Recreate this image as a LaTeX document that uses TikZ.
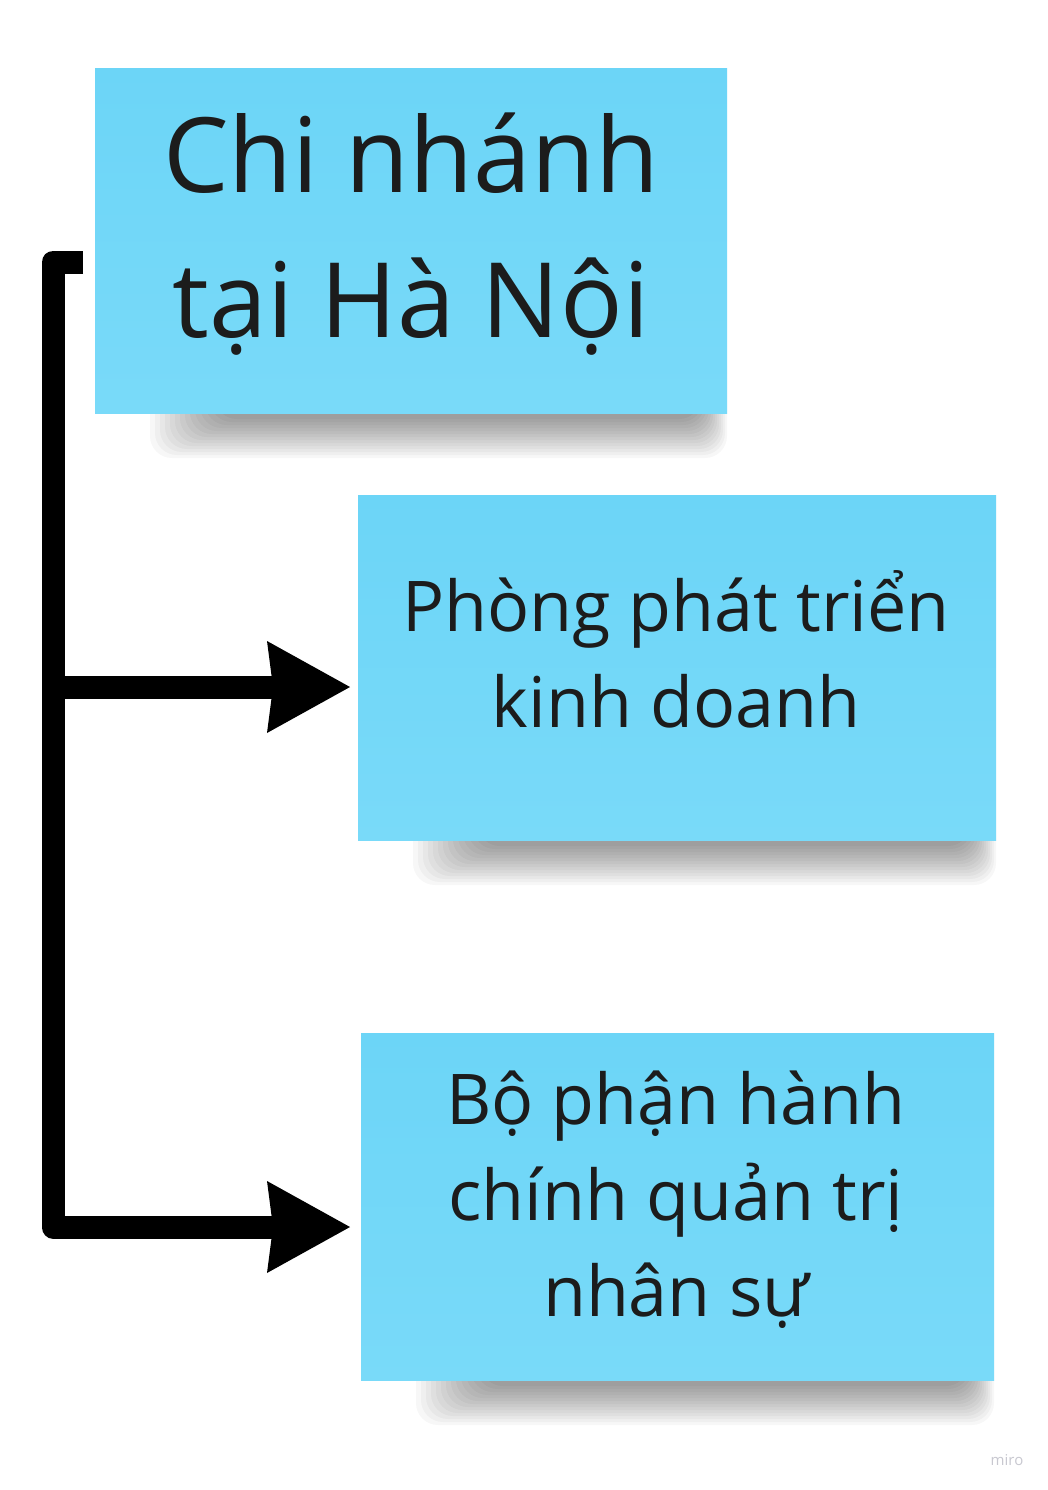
\documentclass[tikz,border=0pt]{standalone}
\usepackage{fontspec}
\setmainfont{Open Sans}
\usetikzlibrary{arrows.meta,calc}
\definecolor{notetop}{RGB}{108,213,247}
\definecolor{notebot}{RGB}{121,218,249}
\definecolor{ink}{RGB}{28,28,28}
\definecolor{wm}{RGB}{200,200,208}
\pgfdeclarelayer{shadowlayer}
\pgfsetlayers{shadowlayer,main}
\tikzset{
  note/.style={draw=none, top color=notetop, bottom color=notebot, inner sep=0pt, outer sep=0pt},
  bigtext/.style={align=center, text=ink, font=\fontsize{104}{145}\selectfont, anchor=base, inner sep=0pt},
  midtext/.style={align=center, text=ink, font=\fontsize{70}{96}\selectfont, anchor=base, inner sep=0pt},
  link/.style={line width=23pt, line join=round, draw=black},
  tipped/.style={-{Stealth[length=83pt,width=92pt,inset=6pt,line width=0pt]}},
  wmark/.style={text=wm, font=\fontsize{15}{18}\selectfont, inner sep=0pt},
}
\newcommand\noteshadow[1]{%
  \foreach \i in {0,...,13}{%
    \fill[black,opacity=0.032,rounded corners=22pt]
      ($(#1.south west)+(120-5*\i,-30-3*\i)$) rectangle ($(#1.south east)+(-26+2*\i,6+3*\i)$);
  }%
}
\begin{document}
\begin{tikzpicture}[x=1pt,y=-1pt]
\useasboundingbox (0,0) rectangle (1048,1490);

% sticky notes
\node[note, minimum width=632pt, minimum height=344pt] (b1) at (411,241) {};
\node[note, minimum width=638pt, minimum height=345pt] (b2) at (677,667.5) {};
\node[note, minimum width=633pt, minimum height=347pt] (b3) at (677.5,1206.5) {};

\begin{pgfonlayer}{shadowlayer}
  \fill[white] (0,0) rectangle (1048,1490);
  \noteshadow{b1}
  \noteshadow{b2}
  \noteshadow{b3}
\end{pgfonlayer}

% texts
\node[bigtext] (t1) at (411,337) {Chi nhánh\\tại Hà Nội};
\node[midtext] (t2) at (676,727) {Phòng phát triển\\kinh doanh};
\node[midtext] (t3) at (676,1316) {Bộ phận hành\\chính quản trị\\nhân sự};

% connectors
\coordinate (s) at (83,262);
\coordinate (top) at (53,262);
\coordinate (a1) at ($(b2.west)+(-8,19.5)$);
\coordinate (a2) at ($(b3.west)+(-11,20.5)$);
\draw[link,tipped] (s) -- (top) |- (a2);
\draw[link,tipped] (top |- a1) -- (a1);

% watermark
\node[wmark] (wm) at (1007,1460) {miro};
\end{tikzpicture}
\end{document}
